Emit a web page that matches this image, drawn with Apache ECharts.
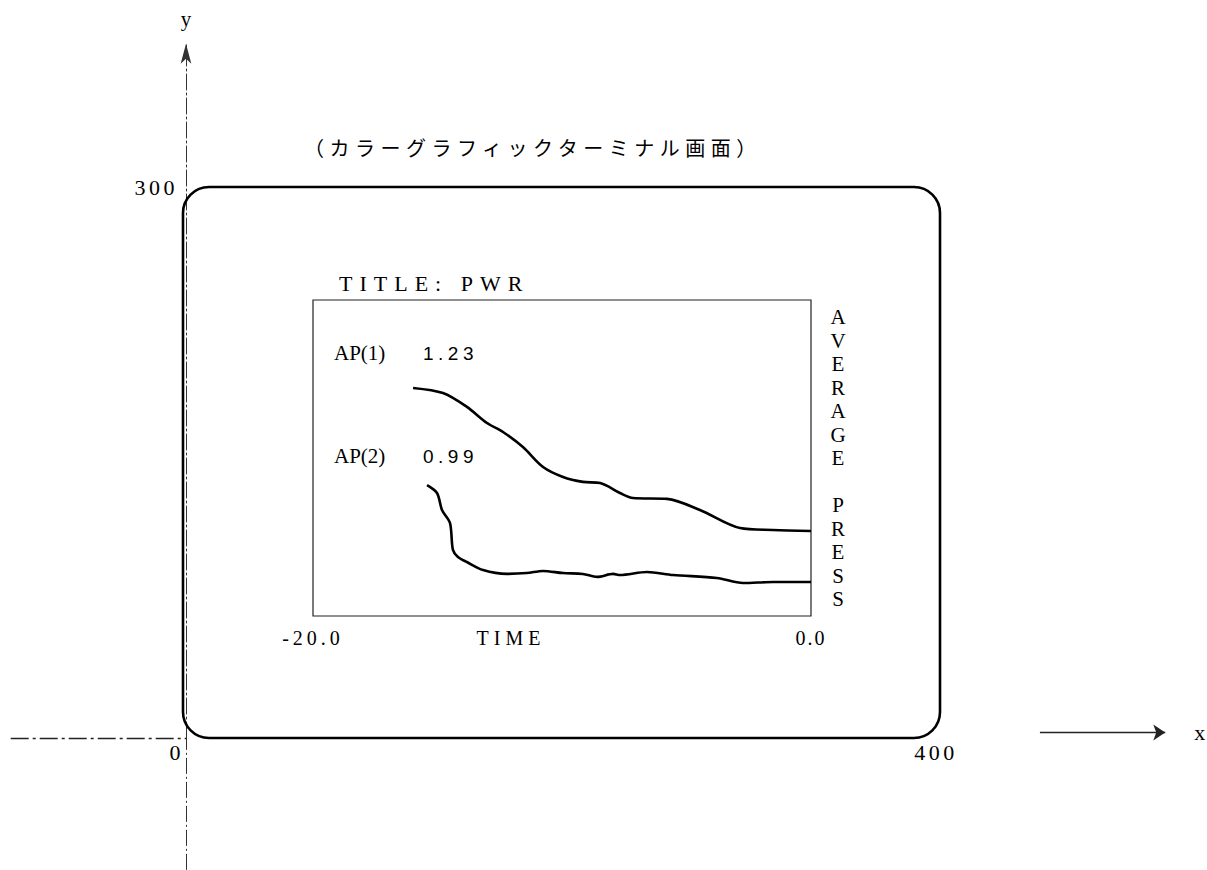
<!DOCTYPE html>
<html><head><meta charset="utf-8">
<script src="https://cdn.jsdelivr.net/npm/echarts@6/dist/echarts.min.js"></script>
<style>html,body{margin:0;padding:0;background:#fff}#c{width:1207px;height:870px}</style>
</head><body><div id="c"></div>
<script>
// ---- text ----
const captionText = '（カラーグラフィックターミナル画面）';
const titleText = 'TITLE: PWR';
const pressAxisName = ['A','V','E','R','A','G','E',' ','P','R','E','S','S'];
const timeAxisName = 'TIME';
// ---- ticks ----
const outerXTicks = [0, 400];
const outerYTicks = [300];
const timeTicks = [-20, 0];
// ---- current values ----
const apNames = ['AP(1)', 'AP(2)'];
const apValues = [1.23, 0.99];
// ---- series (time, average press) ----
const ap1Time  = [-15.98, -14.78, -13.82, -13.01, -12.37, -11.57, -10.76, -9.96, -9.16, -8.47, -7.67, -7.15, -5.78, -4.46, -2.85, -1.53, 0];
const ap1Press = [1.903, 1.879, 1.814, 1.738, 1.696, 1.625, 1.531, 1.484, 1.461, 1.456, 1.409, 1.385, 1.381, 1.329, 1.244, 1.235, 1.23];
const ap2Time  = [-15.42, -15.02, -14.82, -14.50, -14.38, -14.18, -13.82, -13.17, -12.21, -11.41, -10.76, -9.96, -9.16, -8.59, -7.95, -7.67, -6.59, -5.54, -3.78, -2.73, -1.53, 0];
const ap2Press = [1.446, 1.409, 1.329, 1.268, 1.141, 1.108, 1.084, 1.046, 1.028, 1.032, 1.042, 1.032, 1.028, 1.014, 1.028, 1.023, 1.037, 1.023, 1.009, 0.985, 0.99, 0.99];
// ---- screen frame and axis pieces in screen coords ----
const frameBox = [0, 0, 400, 300];
const xAxisLeftPiece = [[-93, 0], [0, 0]];
const yAxisLowerPiece = [[0, -71.8], [0, 0]];
const xAxisArrowPiece = [[453, 3], [519.5, 3]];

// layout anchors (pixels)
const W = 1207, H = 870;
const OX = 186, OY = 738, X400 = 940, Y300 = 187;
const kx = (X400 - OX) / 400, ky = (OY - Y300) / 300;
const oxMax = 520, oyMax = 378;
const inner = {left: 313, right: W - 811, top: 300, bottom: H - 616};

const SERIF = "'Liberation Serif','DejaVu Serif',serif";
const SANS = "'Liberation Sans','DejaVu Sans',sans-serif";
const CJK = "'Noto Sans CJK JP','Noto Sans CJK SC',sans-serif";
const INK = '#000';
const DASHDOT = [16, 3, 2, 3];

const SPACING = {'TITLE: PWR': 7, '1.23': 4.5, '0.99': 4.5, 'TIME': 5, '-20.0': 4, '0.0': 2, '300': 3.5, '400': 3.5};
SPACING[captionText] = 5.5;

const chart = echarts.init(document.getElementById('c'), null, {renderer: 'svg', width: W, height: H});

const graphics = [
  {type: 'text', x: 304, y: 147, style: {text: captionText, font: '20px ' + CJK, fill: INK, verticalAlign: 'middle'}},
  {type: 'text', x: 339, y: 283, style: {text: titleText, font: '22px ' + SERIF, fill: INK, verticalAlign: 'middle'}}
];
const apRowsY = [353, 456];
apNames.forEach((n, i) => {
  graphics.push({type: 'text', x: 334, y: apRowsY[i], style: {text: n, font: '21px ' + SERIF, fill: INK, verticalAlign: 'middle'}});
  graphics.push({type: 'text', x: 423, y: apRowsY[i], style: {text: apValues[i].toFixed(2), font: '19px ' + SANS, fill: INK, verticalAlign: 'middle'}});
});

const lineClip = {type: 'lines', coordinateSystem: 'cartesian2d', xAxisIndex: 0, yAxisIndex: 0, silent: true, clip: false, symbol: 'none'};

chart.setOption({
  animation: false,
  backgroundColor: '#fff',
  grid: [
    {left: OX, right: W - (OX + oxMax * kx), top: OY - oyMax * ky, bottom: H - OY, outerBoundsMode: 'none', containLabel: false},
    {left: inner.left, right: inner.right, top: inner.top, bottom: inner.bottom, show: true, borderColor: '#222', borderWidth: 1.2, outerBoundsMode: 'none', containLabel: false}
  ],
  xAxis: [
    {type: 'value', gridIndex: 0, min: 0, max: oxMax,
     axisLine: {show: false},
     axisTick: {show: false}, splitLine: {show: false},
     axisLabel: {customValues: outerXTicks, margin: 3, color: INK, fontFamily: SERIF, fontSize: 22,
       formatter: v => v === 0 ? '{o|0}' : '{n|' + v + '}',
       rich: {o: {padding: [0, 22, 0, 0], fontFamily: SERIF, fontSize: 22, color: INK}, n: {fontFamily: SERIF, fontSize: 22, color: INK, padding: [0, 8, 0, 0]}}},
     name: 'x', nameLocation: 'end', nameGap: 28, nameMoveOverlap: false,
     nameTextStyle: {fontFamily: SERIF, fontSize: 22, color: INK, verticalAlign: 'bottom', lineHeight: 12}},
    {type: 'value', gridIndex: 1, min: timeTicks[0], max: timeTicks[1], interval: timeTicks[1] - timeTicks[0],
     axisLine: {show: false}, axisTick: {show: false}, splitLine: {show: false},
     axisLabel: {margin: 12, color: INK, fontFamily: SERIF, fontSize: 20, formatter: v => v.toFixed(1)},
     name: timeAxisName, nameLocation: 'middle', nameGap: 12, nameMoveOverlap: false,
     nameTextStyle: {fontFamily: SERIF, fontSize: 20, color: INK, padding: [0, 102, 0, 0]}}
  ],
  yAxis: [
    {type: 'value', gridIndex: 0, min: 0, max: oyMax,
     axisLine: {show: true, symbol: ['none', 'arrow'], symbolSize: [8, 20], lineStyle: {color: '#333', width: 1, type: DASHDOT}},
     axisTick: {show: false}, splitLine: {show: false},
     axisLabel: {customValues: outerYTicks, margin: 8, color: INK, fontFamily: SERIF, fontSize: 22},
     name: 'y', nameLocation: 'end', nameGap: 14, nameMoveOverlap: false, nameTextStyle: {fontFamily: SERIF, fontSize: 21, color: INK}},
    {type: 'value', gridIndex: 1, position: 'right', min: 0.83, max: 2.317,
     axisLine: {show: false}, axisTick: {show: false}, splitLine: {show: false}, axisLabel: {show: false},
     name: pressAxisName.join('\n'), nameLocation: 'middle', nameRotate: 0, nameGap: 27, nameMoveOverlap: false,
     nameTextStyle: {fontFamily: SERIF, fontSize: 21, lineHeight: 23.5, color: INK, align: 'center', verticalAlign: 'middle'}}
  ],
  graphic: graphics,
  series: [
    {type: 'custom', xAxisIndex: 0, yAxisIndex: 0, data: [frameBox], silent: true, clip: false,
     renderItem: (params, api) => {
       const p0 = api.coord([api.value(0), api.value(3)]);
       const p1 = api.coord([api.value(2), api.value(1)]);
       return {type: 'rect', shape: {x: p0[0] - 3, y: p0[1], width: p1[0] - p0[0] + 3, height: p1[1] - p0[1], r: 26},
               style: {fill: 'none', stroke: INK, lineWidth: 2.6}};
     }},
    Object.assign({}, lineClip, {data: [{coords: xAxisLeftPiece}], lineStyle: {color: '#222', width: 1.3, type: [18, 4, 3, 4], opacity: 1}}),
    Object.assign({}, lineClip, {data: [{coords: yAxisLowerPiece}], lineStyle: {color: '#333', width: 1, type: DASHDOT, opacity: 1}}),
    Object.assign({}, lineClip, {data: [{coords: xAxisArrowPiece}], symbol: ['none', 'arrow'], symbolSize: 12, lineStyle: {color: '#222', width: 1.3, opacity: 1}}),
    {type: 'line', name: apNames[0], xAxisIndex: 1, yAxisIndex: 1, smooth: 0.3, showSymbol: false, silent: true,
     data: ap1Time.map((t, i) => [t, ap1Press[i]]), lineStyle: {color: INK, width: 2.6}},
    {type: 'line', name: apNames[1], xAxisIndex: 1, yAxisIndex: 1, smooth: 0.3, showSymbol: false, silent: true,
     data: ap2Time.map((t, i) => [t, ap2Press[i]]), lineStyle: {color: INK, width: 2.6}}
  ]
});

function applySpacing() {
  document.querySelectorAll('#c svg text').forEach(t => {
    const s = SPACING[t.textContent];
    if (s != null) t.style.letterSpacing = s + 'px';
  });
}
chart.on('finished', applySpacing);
applySpacing();
setTimeout(applySpacing, 50);
setTimeout(applySpacing, 300);
</script></body></html>
